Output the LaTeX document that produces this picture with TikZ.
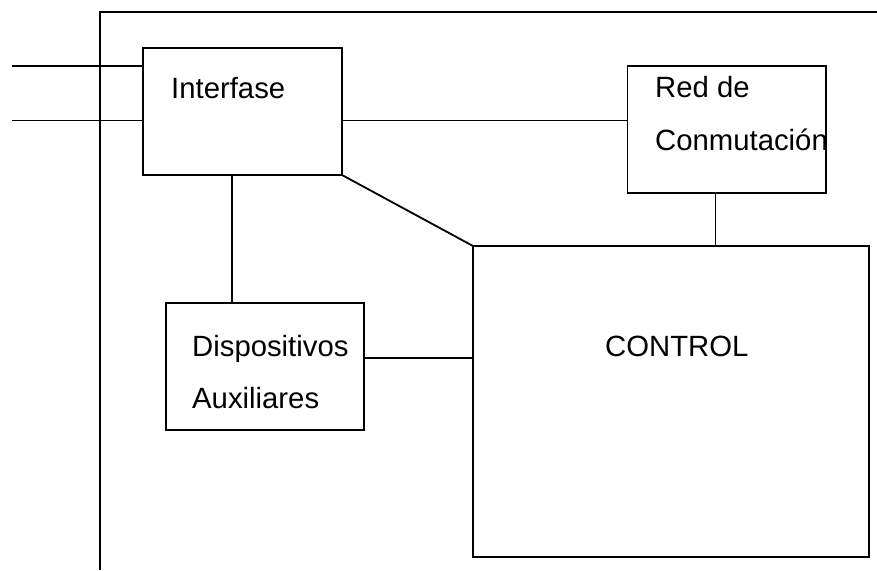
\documentclass[tikz,border=0pt]{standalone}
\usepackage{fontspec}
\setmainfont{Liberation Sans}
\begin{document}
\begin{tikzpicture}[x=1pt,y=-1pt,
  box/.style={draw, line width=1.8pt, rectangle, inner sep=0pt, outer sep=0pt},
  wire/.style={line width=1.8pt},
  lbl/.style={anchor=base west, inner sep=0pt, font=\fontsize{29.3}{35}\selectfont}]
  \useasboundingbox (0,0) rectangle (877,570);

  % outer frame (top and left edges only)
  \coordinate (fTR) at (877,12);
  \coordinate (fTL) at (100,12);
  \coordinate (fBL) at (100,570);
  \draw[wire] (fTR) -- (fTL) -- (fBL);

  % blocks
  \node[box, minimum width=199pt, minimum height=127pt] (inter) at (242.5,111.5) {};
  \node[box, minimum width=198.5pt, minimum height=127pt] (red) at (726.75,129.5) {};
  \node[box, minimum width=396pt, minimum height=311pt, line width=2.2pt] (ctrl) at (671,401.5) {};
  \node[box, minimum width=198pt, minimum height=127pt] (disp) at (265,366.5) {};

  % labels
  \node[lbl] (tInter) at (171,98) {Interfase};
  \node[lbl] (tRed1) at (655,97) {Red de};
  \node[lbl] (tRed2) at (655,150) {Conmutación};
  \node[lbl] (tCtrl) at (605,356.7) {CONTROL};
  \node[lbl] (tDisp1) at (192,356) {Dispositivos};
  \node[lbl] (tDisp2) at (192,408) {Auxiliares};

  % incoming lines
  \coordinate (in1) at (12,66);
  \coordinate (in2) at (12,120.5);
  \draw[wire] (in1) -- (in1 -| inter.west);
  \draw[wire] (in2) -- (in2 -| inter.west);

  % interconnections
  \draw[wire] (in2 -| inter.east) -- (in2 -| red.west);
  \draw[wire] (inter.south east) -- (ctrl.north west);
  \coordinate (rc) at (715.5,246);
  \draw[wire] (red.south -| rc) -- (rc |- ctrl.north);
  \coordinate (ic) at (232,175);
  \draw[wire] (ic |- inter.south) -- (ic |- disp.north);
  \coordinate (dc) at (473,358);
  \draw[wire] (dc -| disp.east) -- (dc -| ctrl.west);
\end{tikzpicture}
\end{document}
